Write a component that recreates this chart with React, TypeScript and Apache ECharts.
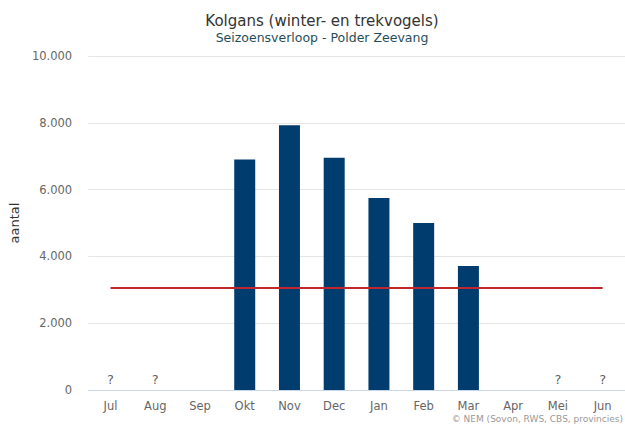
import React, { useEffect, useRef } from "react";
import * as echarts from "echarts";

const months = ["Jul", "Aug", "Sep", "Okt", "Nov", "Dec", "Jan", "Feb", "Mar", "Apr", "Mei", "Jun"];
// null = unknown (shown as "?")
const counts: (number | null)[] = [null, null, 0, 6900, 7930, 6950, 5750, 5000, 3710, 0, null, null];
const averageLine = 3050;
const yTicks = [0, 2000, 4000, 6000, 8000, 10000];

const titleText = "Kolgans (winter- en trekvogels)";
const subtitleText = "Seizoensverloop - Polder Zeevang";
const yAxisName = "aantal";
const creditsText = "© NEM (Sovon, RWS, CBS, provincies)";

const fmt = (v: number) => v.toLocaleString("nl-NL").replace(/,/g, ".");

export default function App() {
  const ref = useRef<HTMLDivElement>(null);
  useEffect(() => {
    document.body.style.margin = "0";
    document.body.style.overflow = "hidden";
    if (!ref.current) return;
    const chart = echarts.init(ref.current, undefined, { renderer: "svg" });
    const font = "DejaVu Sans, Verdana, sans-serif";
    chart.setOption({
      animation: false,
      textStyle: { fontFamily: font },
      title: {
        text: titleText,
        subtext: subtitleText,
        left: 317,
        textAlign: "center",
        top: 8,
        itemGap: 3,
        textStyle: { fontSize: 15, fontWeight: "normal", color: "#333333", fontFamily: font },
        subtextStyle: { fontSize: 12.5, color: "#1f4e5a", fontFamily: font },
      },
      grid: { left: 88, right: -3, top: 56, bottom: 35, containLabel: false },
      xAxis: {
        type: "category",
        data: months,
        boundaryGap: true,
        axisLine: { lineStyle: { color: "#ccd6eb", width: 1 } },
        axisTick: { alignWithLabel: true, length: 9, lineStyle: { color: "#ccd6eb" } },
        axisLabel: { color: "#666666", fontSize: 11.5, margin: 10, fontFamily: font },
        splitLine: { show: false },
      },
      yAxis: {
        type: "value",
        min: yTicks[0],
        max: yTicks[yTicks.length - 1],
        interval: 2000,
        name: yAxisName,
        nameLocation: "middle",
        nameRotate: 90,
        nameGap: 66,
        nameTextStyle: { color: "#333333", fontSize: 13, fontFamily: font },
        axisLine: { show: false },
        axisTick: { show: false },
        axisLabel: { color: "#666666", fontSize: 11.5, margin: 16, formatter: (v: number) => fmt(v), fontFamily: font },
        splitLine: { lineStyle: { color: "#e6e6e6", width: 1 } },
      },
      series: [
        {
          type: "bar",
          data: counts,
          barWidth: 21,
          itemStyle: { color: "#003d6e" },
          markLine: {
            symbol: "none",
            silent: true,
            label: { show: false },
            lineStyle: { color: "#c1272d", width: 2, type: "solid" },
            data: [[
              { coord: [months[0], averageLine] },
              { coord: [months[months.length - 1], averageLine] },
            ]],
          },
        },
        {
          type: "scatter",
          symbolSize: 0,
          data: counts.map((v, i) => (v === null ? [months[i], 0] : null)).filter((d) => d !== null),
          label: {
            show: true,
            position: "top",
            distance: 4,
            formatter: "?",
            color: "#333333",
            fontSize: 13,
            fontFamily: font,
          },
        },
      ],
      graphic: [
        {
          type: "text",
          right: 2,
          top: 414,
          z: 100,
          style: { text: creditsText, fill: "#999999", fontSize: 9, fontFamily: font },
        },
      ],
    });
    return () => chart.dispose();
  }, []);
  return <div ref={ref} style={{ width: 625, height: 425 }} />;
}
